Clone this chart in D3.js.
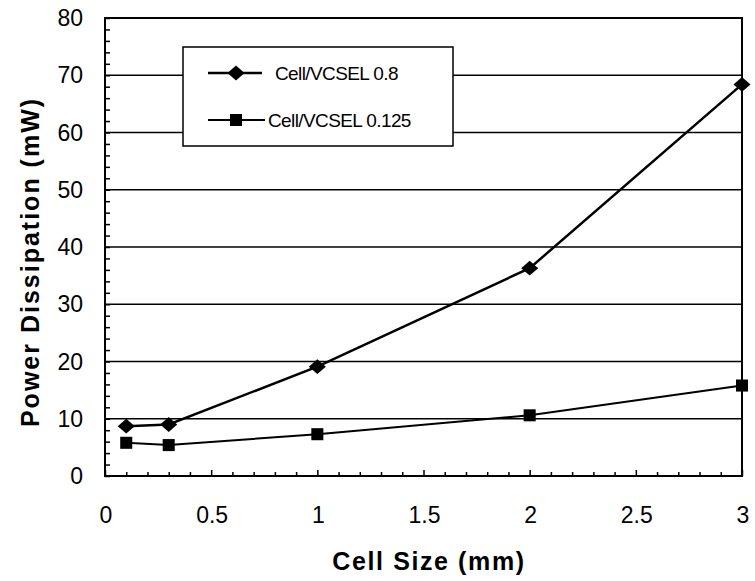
<!DOCTYPE html>
<html>
<head>
<meta charset="utf-8">
<script src="https://cdn.jsdelivr.net/npm/d3@7"></script>
<style>
  body{margin:0;background:#fff;}
  text{font-family:"Liberation Sans",Arial,sans-serif;fill:#000;}
  .title{font-weight:bold;font-size:25px;}
  .tick-label{font-size:23px;}
  .legend-label{font-size:19px;letter-spacing:-0.6px;}
</style>
</head>
<body>
<svg id="chart"></svg>
<script>
// data
const cellSize=[0.1,0.3,1,2,3];
const vcsel08=[8.7,9.0,19.1,36.3,68.4];
const vcsel0125=[5.8,5.4,7.3,10.6,15.8];
const seriesNames=["Cell/VCSEL 0.8","Cell/VCSEL 0.125"];
const xTicks=[0,0.5,1,1.5,2,2.5,3];
const yTicks=[0,10,20,30,40,50,60,70,80];

// a squat diamond, wider than d3's own
const wideDiamond={
    draw:function(context,size){
        const r=Math.sqrt(size/2);
        context.moveTo(0,-r);
        context.lineTo(r*1.15,0);
        context.lineTo(0,r);
        context.lineTo(-r*1.15,0);
        context.closePath();
    }
};

function linechart(){
    const width=755;
    const height=581;
    const margin={top:18,right:13,bottom:105,left:105};

    const svg=d3.select("#chart")
        .attr("width",width)
        .attr("height",height);

    const x=d3.scaleLinear().domain([0,3]).range([margin.left,width-margin.right]);
    const y=d3.scaleLinear().domain([0,80]).range([height-margin.bottom,margin.top]);

    // horizontal grid lines on the major y ticks
    svg.append("g").selectAll("line")
        .data(yTicks.filter(d=>d>0&&d<80))
        .enter().append("line")
        .attr("x1",x(0)).attr("x2",x(3))
        .attr("y1",d=>y(d)).attr("y2",d=>y(d))
        .attr("stroke","#000").attr("stroke-width",1.5);

    // frame round the plot
    svg.append("rect")
        .attr("x",x(0)).attr("y",y(80))
        .attr("width",x(3)-x(0)).attr("height",y(0)-y(80))
        .attr("fill","none").attr("stroke","#000").attr("stroke-width",2);

    // minor ticks pointing inward
    const xAxis=d3.axisTop(x).tickValues(d3.range(0,31).map(d=>d/10))
        .tickSize(0).tickFormat("");
    const gx=svg.append("g").attr("transform","translate(0,"+y(0)+")").call(xAxis);
    gx.select(".domain").remove();
    gx.selectAll(".tick line")
        .attr("y2",d=>Math.abs(d*2-Math.round(d*2))<1e-6 ? -6 : -4)
        .attr("stroke","#000").attr("stroke-width",1.5);

    const yAxis=d3.axisRight(y).tickValues(d3.range(0,81,2)).tickSize(0).tickFormat("");
    const gy=svg.append("g").attr("transform","translate("+x(0)+",0)").call(yAxis);
    gy.select(".domain").remove();
    gy.selectAll(".tick line")
        .attr("x2",5)
        .attr("stroke","#000").attr("stroke-width",1.5);

    // tick labels
    svg.append("g").selectAll("text")
        .data(xTicks)
        .enter().append("text")
        .attr("class","tick-label")
        .attr("x",d=>x(d)+1)
        .attr("y",y(0)+47)
        .attr("text-anchor","middle")
        .text(d=>d);
    svg.append("g").selectAll("text")
        .data(yTicks)
        .enter().append("text")
        .attr("class","tick-label")
        .attr("x",x(0)-22)
        .attr("y",d=>y(d)+8)
        .attr("text-anchor","end")
        .text(d=>d);

    // axis titles
    svg.append("text").attr("class","title")
        .attr("x",429).attr("y",570)
        .attr("text-anchor","middle")
        .style("letter-spacing","1.6px")
        .text("Cell Size (mm)");
    svg.append("text").attr("class","title")
        .attr("transform","translate(39,262) rotate(-90)")
        .attr("text-anchor","middle")
        .style("letter-spacing","2px")
        .text("Power Dissipation (mW)");

    // series lines and markers
    const series=[vcsel08,vcsel0125];
    const line=d3.line().x((d,i)=>x(cellSize[i])).y(d=>y(d));
    const symbols=[wideDiamond,d3.symbolSquare];
    const symSizes=[110,145];
    const widths=[2.5,2];

    series.forEach(function(s,k){
        svg.append("path")
            .datum(s)
            .attr("d",line)
            .attr("fill","none")
            .attr("stroke","#000")
            .attr("stroke-width",widths[k]);
        svg.append("g").selectAll("path")
            .data(s)
            .enter().append("path")
            .attr("transform",(d,i)=>"translate("+x(cellSize[i])+","+y(d)+")")
            .attr("d",d3.symbol().type(symbols[k]).size(symSizes[k]))
            .attr("fill","#000");
    });

    // legend box, white so it hides the grid behind it
    const legend=svg.append("g").attr("transform","translate(183,47)");
    legend.append("rect")
        .attr("width",270).attr("height",99)
        .attr("fill","#fff").attr("stroke","#000").attr("stroke-width",1.5);
    const rows=legend.selectAll(".legends")
        .data(seriesNames)
        .enter().append("g").classed("legends",true)
        .attr("transform",(d,i)=>"translate(0,"+(26+i*47)+")");
    rows.append("line")
        .attr("x1",25).attr("x2",(d,i)=>i===0?79:82)
        .attr("stroke","#000").attr("stroke-width",(d,i)=>widths[i]);
    rows.append("path")
        .attr("transform","translate(53,0)")
        .attr("d",(d,i)=>d3.symbol().type(symbols[i]).size(symSizes[i])())
        .attr("fill","#000");
    rows.append("text").attr("class","legend-label")
        .attr("x",(d,i)=>i===0?92:85)
        .attr("y",7)
        .text(d=>d);
}
linechart();
</script>
</body>
</html>
